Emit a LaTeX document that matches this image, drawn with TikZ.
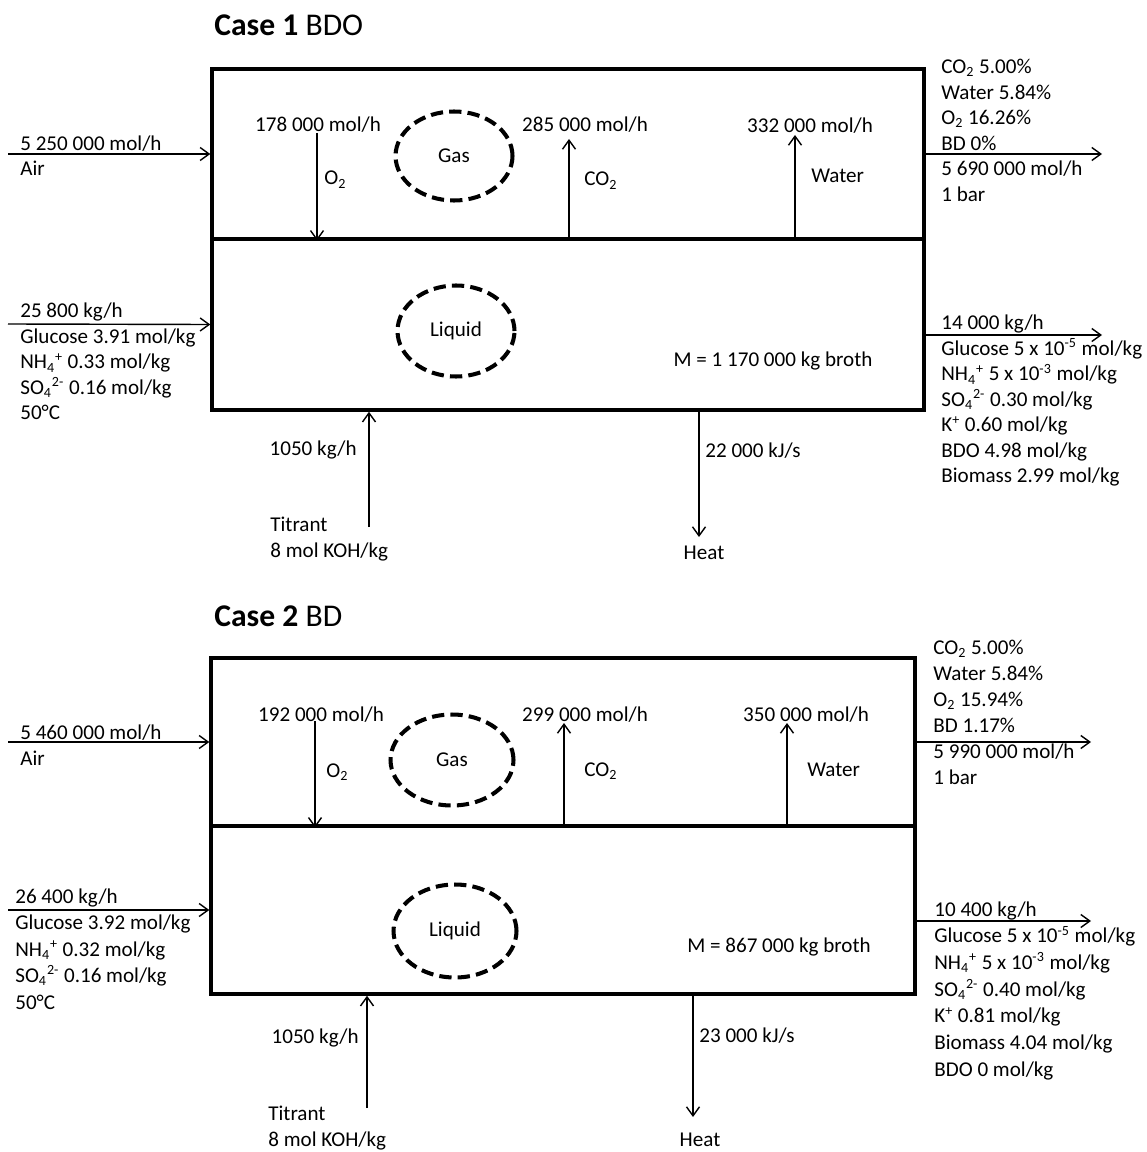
\documentclass[tikz,border=0pt]{standalone}
\usepackage{fontspec}
\setmainfont{Carlito}
\usetikzlibrary{
    arrows.meta,
    positioning,
    shapes.geometric
}
\tikzset{
  casetitle/.style = {anchor=base west, inner sep=0pt, font=\fontsize{18}{22}\selectfont},
  phase/.style     = {draw, line width=2pt, inner sep=0pt},
  bubble/.style    = {draw, ellipse, line width=2.3pt, dash pattern=on 7pt off 3.5pt,
                      inner sep=0pt},
  lbl/.style       = {inner sep=0pt, anchor=base west},
  stream/.style    = {inner sep=0pt, anchor=north west, align=left},
  flow/.style      = {-{Straight Barb[length=1.8mm,width=2.6mm]}, line width=0.8pt}
}

\begin{document}
\begin{tikzpicture}[x=0.02cm, y=-0.02cm, font=\fontsize{12}{14.5}\selectfont]
\useasboundingbox (0,0) rectangle (1146,1152);

% ---------------- Case 1 BDO ----------------
\node[casetitle] (title1) at (214,36) {\textbf{Case 1} BDO};
\node[phase, minimum width=14.24cm, minimum height=3.40cm] (gas1) at (568,154) {};
\node[phase, minimum width=14.24cm, minimum height=3.42cm] (liq1) at (568,324.5) {};
\node[bubble, minimum width=2.34cm, minimum height=1.78cm] (gasph1) at (454,156) {Gas};
\node[bubble, minimum width=2.34cm, minimum height=1.82cm] (liqph1) at (456,331) {Liquid};

% feeds and products
\coordinate (air1) at (8,154);
\draw[flow] (air1) -- (gas1.west);
\node[lbl] (airrate1) at (20,151) {5 250 000 mol/h};
\node[lbl] (airname1) at (20,175) {Air};
\coordinate (feed1) at (8,324);
\draw[flow] (feed1) -- (liq1.west);
\node[stream] (feedlab1) at (20,303) {25 800 kg/h\\
  Glucose 3.91 mol/kg\\
  NH\textsubscript{4}\textsuperscript{+} 0.33 mol/kg\\
  SO\textsubscript{4}\textsuperscript{2-} 0.16 mol/kg\\
  50°C};
\coordinate (vent1) at (1102,154);
\draw[flow] (gas1.east) -- (vent1);
\node[stream] (ventlab1) at (941,59) {CO\textsubscript{2} 5.00\%\\
  Water 5.84\%\\
  O\textsubscript{2} 16.26\%\\
  BD 0\%\\
  5 690 000 mol/h\\
  1 bar};
\coordinate (broth1) at (1102,335);
\draw[flow] (broth1 -| liq1.east) -- (broth1);
\node[stream] (brothlab1) at (941,315) {14 000 kg/h\\
  Glucose 5 x 10\textsuperscript{-5} mol/kg\\
  NH\textsubscript{4}\textsuperscript{+} 5 x 10\textsuperscript{-3} mol/kg\\
  SO\textsubscript{4}\textsuperscript{2-} 0.30 mol/kg\\
  K\textsuperscript{+} 0.60 mol/kg\\
  BDO 4.98 mol/kg\\
  Biomass 2.99 mol/kg};

% gas/liquid transfer
\coordinate (o2top1) at (317,133);
\draw[flow] (o2top1) -- (o2top1 |- gas1.south);
\node[lbl, anchor=base] (o2rate1) at (318,132) {178 000 mol/h};
\node[lbl] (o2name1) at (324,185) {O\textsubscript{2}};
\coordinate (co2top1) at (569,139);
\draw[flow] (co2top1 |- gas1.south) -- (co2top1);
\node[lbl, anchor=base] (co2rate1) at (585,132) {285 000 mol/h};
\node[lbl] (co2name1) at (584,186) {CO\textsubscript{2}};
\coordinate (h2otop1) at (795,135);
\draw[flow] (h2otop1 |- gas1.south) -- (h2otop1);
\node[lbl, anchor=base] (h2orate1) at (810,133) {332 000 mol/h};
\node[lbl] (h2oname1) at (811,183) {Water};
\node[lbl, anchor=base] (mass1) at (773,366) {M = 1 170 000 kg broth};

% titrant and heat
\coordinate (base1) at (369,527);
\draw[flow] (base1) -- (base1 |- liq1.south);
\node[lbl, anchor=base east] (baserate1) at (357,455) {1050 kg/h};
\node[stream] (baselab1) at (270,517) {Titrant\\8 mol KOH/kg};
\coordinate (heat1) at (699,537);
\draw[flow] (heat1 |- liq1.south) -- (heat1);
\node[lbl] (heatrate1) at (705,457) {22 000 kJ/s};
\node[lbl, anchor=base] (heatlab1) at (704,559) {Heat};

% ---------------- Case 2 BD ----------------
\node[casetitle] (title2) at (214,626) {\textbf{Case 2} BD};
\node[phase, minimum width=14.08cm, minimum height=3.36cm] (gas2) at (563,742) {};
\node[phase, minimum width=14.08cm, minimum height=3.36cm] (liq2) at (563,910) {};
\node[bubble, minimum width=2.46cm, minimum height=1.82cm] (gasph2) at (452,760) {Gas};
\node[bubble, minimum width=2.46cm, minimum height=1.86cm] (liqph2) at (455,931) {Liquid};

% feeds and products
\coordinate (air2) at (8,742);
\draw[flow] (air2) -- (gas2.west);
\node[lbl] (airrate2) at (20,739) {5 460 000 mol/h};
\node[lbl] (airname2) at (20,765) {Air};
\coordinate (feed2) at (8,910);
\draw[flow] (feed2) -- (liq2.west);
\node[stream, font=\fontsize{12}{15.1}\selectfont] (feedlab2) at (15,888) {26 400 kg/h\\
  Glucose 3.92 mol/kg\\
  NH\textsubscript{4}\textsuperscript{+} 0.32 mol/kg\\
  SO\textsubscript{4}\textsuperscript{2-} 0.16 mol/kg\\
  50°C};
\coordinate (vent2) at (1091,742);
\draw[flow] (gas2.east) -- (vent2);
\node[stream, font=\fontsize{12}{14.8}\selectfont] (ventlab2) at (933,640) {CO\textsubscript{2} 5.00\%\\
  Water 5.84\%\\
  O\textsubscript{2} 15.94\%\\
  BD 1.17\%\\
  5 990 000 mol/h\\
  1 bar};
\coordinate (broth2) at (1091,921);
\draw[flow] (broth2 -| liq2.east) -- (broth2);
\node[stream, font=\fontsize{12}{15.2}\selectfont] (brothlab2) at (934,901) {10 400 kg/h\\
  Glucose 5 x 10\textsuperscript{-5} mol/kg\\
  NH\textsubscript{4}\textsuperscript{+} 5 x 10\textsuperscript{-3} mol/kg\\
  SO\textsubscript{4}\textsuperscript{2-} 0.40 mol/kg\\
  K\textsuperscript{+} 0.81 mol/kg\\
  Biomass 4.04 mol/kg\\
  BDO 0 mol/kg};

% gas/liquid transfer
\coordinate (o2top2) at (315,721);
\draw[flow] (o2top2) -- (o2top2 |- gas2.south);
\node[lbl, anchor=base] (o2rate2) at (321,721) {192 000 mol/h};
\node[lbl] (o2name2) at (326,777) {O\textsubscript{2}};
\coordinate (co2top2) at (564,723);
\draw[flow] (co2top2 |- gas2.south) -- (co2top2);
\node[lbl, anchor=base] (co2rate2) at (585,721) {299 000 mol/h};
\node[lbl] (co2name2) at (584,776) {CO\textsubscript{2}};
\coordinate (h2otop2) at (787,723);
\draw[flow] (h2otop2 |- gas2.south) -- (h2otop2);
\node[lbl, anchor=base] (h2orate2) at (806,721) {350 000 mol/h};
\node[lbl] (h2oname2) at (807,776) {Water};
\node[lbl, anchor=base] (mass2) at (779,952) {M = 867 000 kg broth};

% titrant and heat
\coordinate (base2) at (367,1108);
\draw[flow] (base2) -- (base2 |- liq2.south);
\node[lbl, anchor=base east] (baserate2) at (359,1043) {1050 kg/h};
\node[stream] (baselab2) at (268,1106) {Titrant\\8 mol KOH/kg};
\coordinate (heat2) at (693,1117);
\draw[flow] (heat2 |- liq2.south) -- (heat2);
\node[lbl] (heatrate2) at (699,1042) {23 000 kJ/s};
\node[lbl, anchor=base] (heatlab2) at (700,1146) {Heat};
\end{tikzpicture}
\end{document}
